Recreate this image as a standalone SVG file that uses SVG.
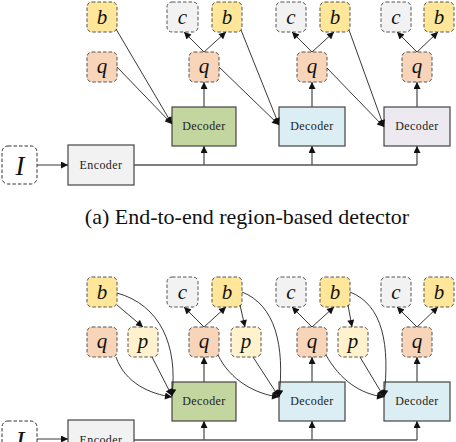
<svg xmlns="http://www.w3.org/2000/svg" width="456" height="442" viewBox="0 0 456 442" font-family="'Liberation Serif', 'Times New Roman', 'DejaVu Serif', serif">
<defs>
<marker id="ah" viewBox="0 0 10 10" refX="10" refY="5" markerWidth="8" markerHeight="7" markerUnits="userSpaceOnUse" orient="auto"><path d="M0,0 L10,5 L0,10 Z" fill="#111"/></marker>
<style>
text{font-family:'Liberation Serif','Times New Roman','DejaVu Serif',serif}
.bx{stroke:#555;stroke-width:1;stroke-dasharray:3.5,2}
.b{fill:#FFE699}.q{fill:#F8D4B9}.c{fill:#F2F2F2}.p{fill:#FFF2CC}.i{fill:#fff;stroke:#333}
.v{font-style:italic;font-size:21px;fill:#111;text-anchor:middle}
.dec{stroke:#444;stroke-width:1.2}
.lbl{font-size:12px;fill:#222;text-anchor:middle;letter-spacing:0.4px}
.ln{fill:none;stroke:#222;stroke-width:0.9}
.up{fill:none;stroke:#555;stroke-width:1.3}
.cap{font-size:22px;fill:#111;text-anchor:middle}
</style>
</defs>

<!-- (a) -->
<g id="a_b0"><rect class="bx b" x="87" y="2" width="30" height="30" rx="5"/><text class="v" x="102" y="24">b</text></g>
<g id="a_q0"><rect class="bx q" x="87" y="52" width="30" height="30" rx="5"/><text class="v" x="102" y="73">q</text></g>
<g id="a_c1"><rect class="bx c" x="167" y="2" width="31" height="30" rx="5"/><text class="v" x="182.5" y="24">c</text></g>
<g id="a_b1"><rect class="bx b" x="212" y="2" width="30" height="30" rx="5"/><text class="v" x="227" y="24">b</text></g>
<g id="a_q1"><rect class="bx q" x="189" y="52" width="30" height="30" rx="5"/><text class="v" x="204" y="73">q</text></g>
<g id="a_c2"><rect class="bx c" x="276" y="2" width="30" height="30" rx="5"/><text class="v" x="291" y="24">c</text></g>
<g id="a_b2"><rect class="bx b" x="320" y="2" width="30" height="30" rx="5"/><text class="v" x="335" y="24">b</text></g>
<g id="a_q2"><rect class="bx q" x="297" y="52" width="30" height="30" rx="5"/><text class="v" x="312" y="73">q</text></g>
<g id="a_c3"><rect class="bx c" x="381" y="2" width="30" height="30" rx="5"/><text class="v" x="396" y="24">c</text></g>
<g id="a_b3"><rect class="bx b" x="424" y="2" width="30" height="30" rx="5"/><text class="v" x="439" y="24">b</text></g>
<g id="a_q3"><rect class="bx q" x="402" y="52" width="30" height="30" rx="5"/><text class="v" x="417" y="73">q</text></g>
<g id="a_d1"><rect class="dec" x="172" y="107" width="64" height="39" fill="#C4D69F"/><text class="lbl" x="204" y="130">Decoder</text></g>
<g id="a_d2"><rect class="dec" x="279" y="107" width="66" height="39" fill="#DAEEF3"/><text class="lbl" x="312" y="130">Decoder</text></g>
<g id="a_d3"><rect class="dec" x="384" y="107" width="66" height="39" fill="#ECE9F1"/><text class="lbl" x="417" y="130">Decoder</text></g>
<g id="a_enc"><rect class="dec" x="68" y="145" width="66" height="40" fill="#F2F2F2"/><text class="lbl" x="101" y="169">Encoder</text></g>
<g id="a_I"><rect class="bx i" x="2" y="146" width="35" height="38" rx="6"/><text class="v" x="20" y="175" style="font-size:27px">I</text></g>

<g id="a_connectors">
<line class="ln" x1="37" y1="165" x2="68" y2="165" marker-end="url(#ah)"/>
<polyline class="up" points="134,165 417,165"/>
<line class="up" x1="204" y1="165" x2="204" y2="146" marker-end="url(#ah)"/>
<line class="up" x1="312" y1="165" x2="312" y2="146" marker-end="url(#ah)"/>
<line class="up" x1="417" y1="165" x2="417" y2="146" marker-end="url(#ah)"/>
<line class="up" x1="204" y1="107" x2="204" y2="82" marker-end="url(#ah)"/>
<line class="up" x1="312" y1="107" x2="312" y2="82" marker-end="url(#ah)"/>
<line class="up" x1="417" y1="107" x2="417" y2="82" marker-end="url(#ah)"/>
<line class="ln" x1="204" y1="52" x2="184" y2="32" marker-end="url(#ah)"/>
<line class="ln" x1="204" y1="52" x2="226" y2="32" marker-end="url(#ah)"/>
<line class="ln" x1="312" y1="52" x2="292" y2="32" marker-end="url(#ah)"/>
<line class="ln" x1="312" y1="52" x2="334" y2="32" marker-end="url(#ah)"/>
<line class="ln" x1="417" y1="52" x2="397" y2="32" marker-end="url(#ah)"/>
<line class="ln" x1="417" y1="52" x2="438" y2="32" marker-end="url(#ah)"/>
<line class="ln" x1="116" y1="29" x2="172" y2="124" marker-end="url(#ah)"/>
<line class="ln" x1="117" y1="67" x2="172" y2="124" marker-end="url(#ah)"/>
<line class="ln" x1="241" y1="30" x2="279" y2="125" marker-end="url(#ah)"/>
<line class="ln" x1="219" y1="67" x2="279" y2="125" marker-end="url(#ah)"/>
<line class="ln" x1="349" y1="30" x2="384" y2="127" marker-end="url(#ah)"/>
<line class="ln" x1="327" y1="68" x2="384" y2="127" marker-end="url(#ah)"/>
</g>

<text class="cap" x="247" y="224">(a) End-to-end region-based detector</text>

<!-- (b) -->
<g id="b_b0"><rect class="bx b" x="87" y="277" width="30" height="30" rx="5"/><text class="v" x="102" y="299">b</text></g>
<g id="b_q0"><rect class="bx q" x="87" y="327" width="30" height="30" rx="5"/><text class="v" x="102" y="348">q</text></g>
<g id="b_p0"><rect class="bx p" x="128" y="327" width="30" height="30" rx="5"/><text class="v" x="143" y="348">p</text></g>
<g id="b_c1"><rect class="bx c" x="167" y="277" width="31" height="30" rx="5"/><text class="v" x="182.5" y="299">c</text></g>
<g id="b_b1"><rect class="bx b" x="212" y="277" width="30" height="30" rx="5"/><text class="v" x="227" y="299">b</text></g>
<g id="b_q1"><rect class="bx q" x="189" y="327" width="30" height="30" rx="5"/><text class="v" x="204" y="348">q</text></g>
<g id="b_p1"><rect class="bx p" x="231" y="327" width="30" height="30" rx="5"/><text class="v" x="246" y="348">p</text></g>
<g id="b_c2"><rect class="bx c" x="276" y="277" width="30" height="30" rx="5"/><text class="v" x="291" y="299">c</text></g>
<g id="b_b2"><rect class="bx b" x="320" y="277" width="30" height="30" rx="5"/><text class="v" x="335" y="299">b</text></g>
<g id="b_q2"><rect class="bx q" x="297" y="327" width="30" height="30" rx="5"/><text class="v" x="312" y="348">q</text></g>
<g id="b_p2"><rect class="bx p" x="338" y="327" width="30" height="30" rx="5"/><text class="v" x="353" y="348">p</text></g>
<g id="b_c3"><rect class="bx c" x="381" y="277" width="30" height="30" rx="5"/><text class="v" x="396" y="299">c</text></g>
<g id="b_b3"><rect class="bx b" x="424" y="277" width="30" height="30" rx="5"/><text class="v" x="439" y="299">b</text></g>
<g id="b_q3"><rect class="bx q" x="402" y="327" width="30" height="30" rx="5"/><text class="v" x="417" y="348">q</text></g>
<g id="b_d1"><rect class="dec" x="172" y="382" width="64" height="39" fill="#C4D69F"/><text class="lbl" x="204" y="405">Decoder</text></g>
<g id="b_d2"><rect class="dec" x="279" y="382" width="66" height="39" fill="#DAEEF3"/><text class="lbl" x="312" y="405">Decoder</text></g>
<g id="b_d3"><rect class="dec" x="384" y="382" width="66" height="39" fill="#DAEEF3"/><text class="lbl" x="417" y="405">Decoder</text></g>
<g id="b_enc"><rect class="dec" x="68" y="420" width="66" height="40" fill="#F2F2F2"/><text class="lbl" x="101" y="444">Encoder</text></g>
<g id="b_I"><rect class="bx i" x="2" y="421" width="35" height="38" rx="6"/><text class="v" x="20" y="450" style="font-size:27px">I</text></g>

<g id="b_connectors">
<line class="ln" x1="37" y1="439" x2="68" y2="439" marker-end="url(#ah)"/>
<polyline class="up" points="134,440 417,440"/>
<line class="up" x1="204" y1="440" x2="204" y2="421" marker-end="url(#ah)"/>
<line class="up" x1="312" y1="440" x2="312" y2="421" marker-end="url(#ah)"/>
<line class="up" x1="417" y1="440" x2="417" y2="421" marker-end="url(#ah)"/>
<line class="up" x1="204" y1="382" x2="204" y2="357" marker-end="url(#ah)"/>
<line class="up" x1="312" y1="382" x2="312" y2="357" marker-end="url(#ah)"/>
<line class="up" x1="417" y1="382" x2="417" y2="357" marker-end="url(#ah)"/>
<line class="ln" x1="204" y1="327" x2="184" y2="307" marker-end="url(#ah)"/>
<line class="ln" x1="204" y1="327" x2="226" y2="307" marker-end="url(#ah)"/>
<line class="ln" x1="312" y1="327" x2="292" y2="307" marker-end="url(#ah)"/>
<line class="ln" x1="312" y1="327" x2="334" y2="307" marker-end="url(#ah)"/>
<line class="ln" x1="417" y1="327" x2="397" y2="307" marker-end="url(#ah)"/>
<line class="ln" x1="417" y1="327" x2="438" y2="307" marker-end="url(#ah)"/>
<line class="ln" x1="117" y1="305" x2="143" y2="327" marker-end="url(#ah)"/>
<path class="ln" d="M117,293 C160,305 178,345 172,396" marker-end="url(#ah)"/>
<path class="ln" d="M116,357 C125,383 150,394 172,397" marker-end="url(#ah)"/>
<line class="ln" x1="152" y1="357" x2="172" y2="396" marker-end="url(#ah)"/>
<line class="ln" x1="240" y1="305" x2="245" y2="327" marker-end="url(#ah)"/>
<path class="ln" d="M242,292 C275,305 285,345 279,397" marker-end="url(#ah)"/>
<path class="ln" d="M218,355 C230,380 255,394 279,397" marker-end="url(#ah)"/>
<line class="ln" x1="253" y1="357" x2="279" y2="397" marker-end="url(#ah)"/>
<line class="ln" x1="348" y1="305" x2="352" y2="327" marker-end="url(#ah)"/>
<path class="ln" d="M350,292 C383,305 390,345 384,397" marker-end="url(#ah)"/>
<path class="ln" d="M326,355 C340,380 360,394 384,397" marker-end="url(#ah)"/>
<line class="ln" x1="360" y1="357" x2="384" y2="397" marker-end="url(#ah)"/>
</g>
</svg>
